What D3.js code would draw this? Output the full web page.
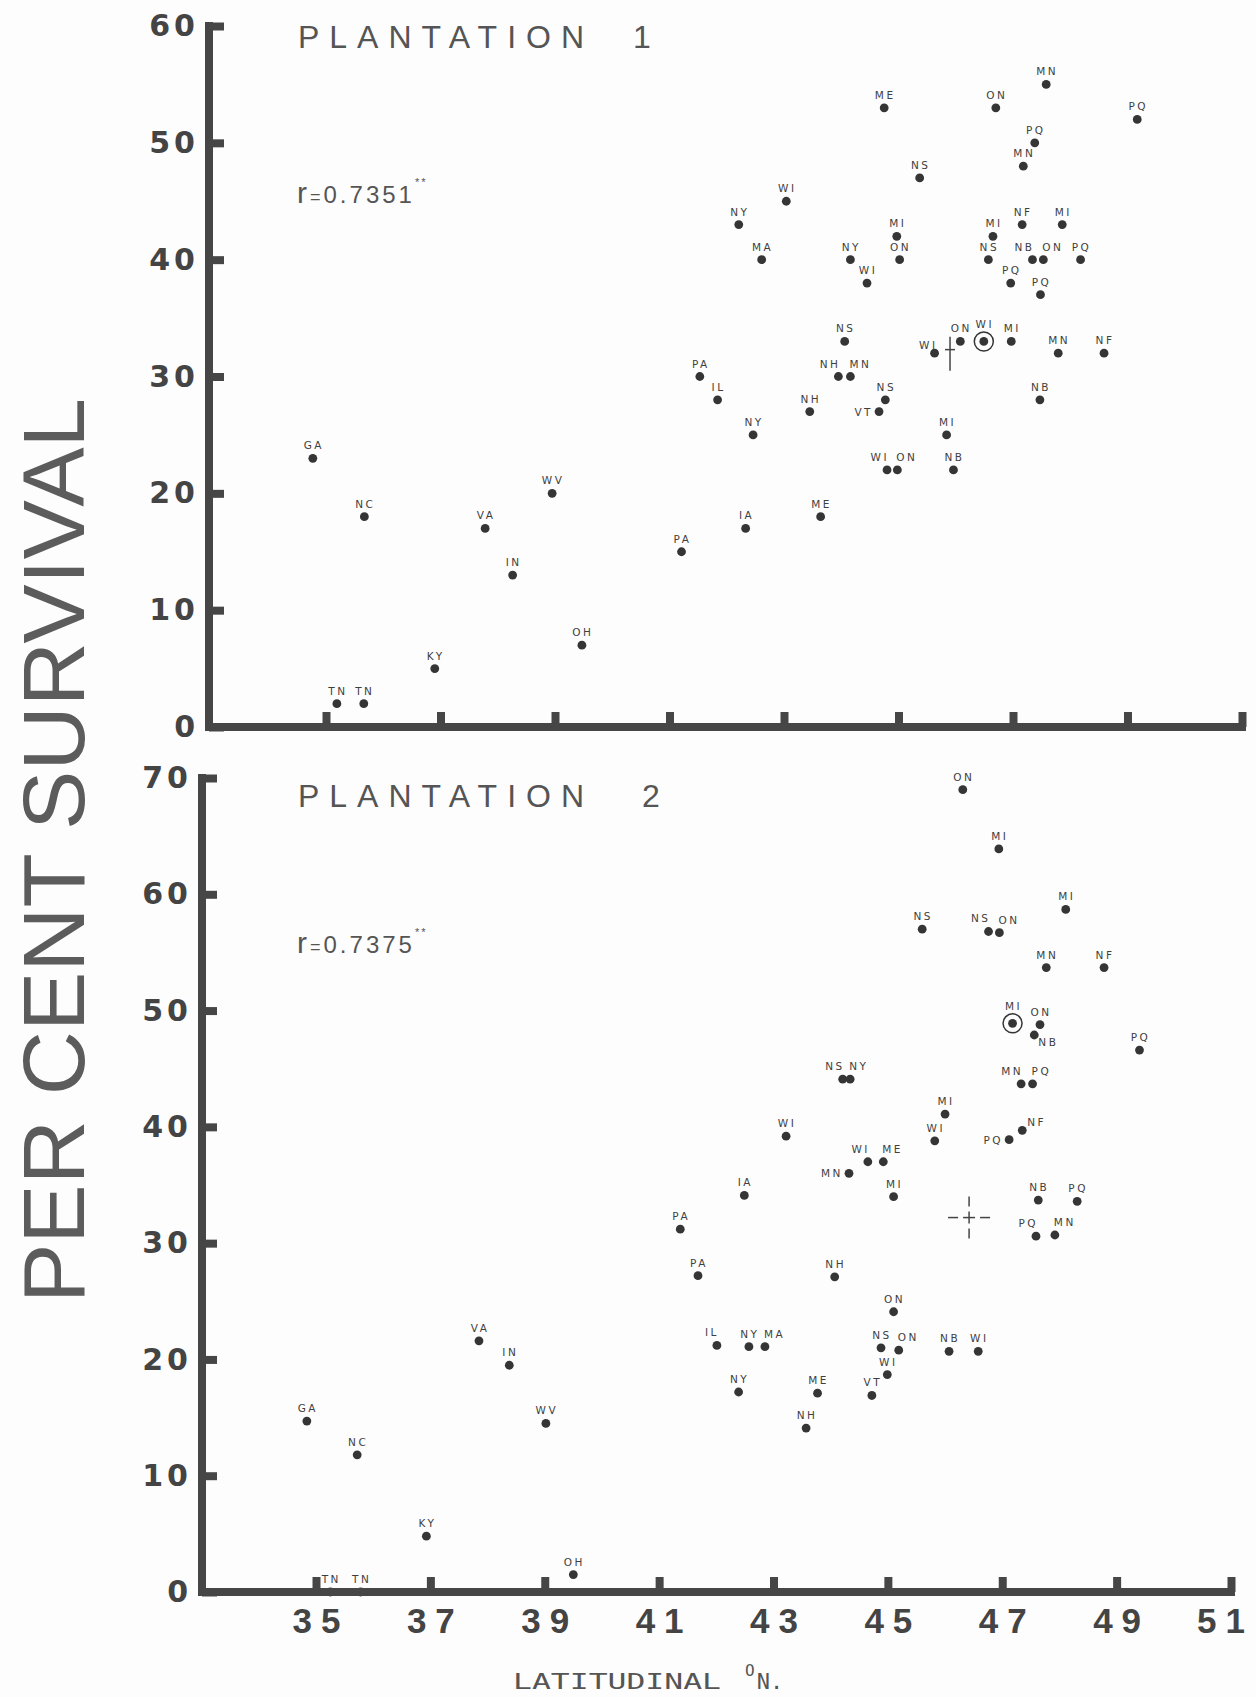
<!DOCTYPE html>
<html>
<head>
<meta charset="utf-8">
<script src="https://cdn.jsdelivr.net/npm/d3@7"></script>
<style>
  body { margin: 0; background: #fdfdfd; }
</style>
</head>
<body>
<div class="wrapper"></div>
<script>
// Plantation 1 : seed source latitude, per cent survival, state / province
var lat1 = [34.77, 35.67, 35.19, 35.66, 36.90, 37.78, 38.26, 38.95, 39.47, 41.21,
            41.53, 41.84, 42.33, 42.46, 43.64, 43.45, 43.95, 44.16, 44.66, 44.77,
            44.80, 44.98, 45.84, 45.96, 47.47, 44.06, 45.63, 46.08, 46.49, 46.97,
            47.79, 48.59, 42.61, 42.21, 43.04, 44.16, 44.45, 44.97, 45.02, 44.75,
            45.37, 46.70, 47.58, 49.17, 47.38, 47.18, 46.65, 47.16, 47.86, 46.57,
            47.34, 47.53, 48.18, 46.96, 47.48];
var surv1 = [23, 18, 2, 2, 5, 17, 13, 20, 7, 15,
             30, 28, 17, 25, 18, 27, 30, 30, 27, 28,
             22, 22, 25, 22, 28, 33, 32, 33, 33, 33,
             32, 32, 40, 43, 45, 40, 38, 42, 40, 53,
             47, 53, 55, 52, 50, 48, 42, 43, 43, 40,
             40, 40, 40, 38, 37];
var code1 = ["GA", "NC", "TN", "TN", "KY", "VA", "IN", "WV", "OH", "PA",
             "PA", "IL", "IA", "NY", "ME", "NH", "NH", "MN", "VT", "NS",
             "WI", "ON", "MI", "NB", "NB", "NS", "WI", "ON", "WI", "MI",
             "MN", "NF", "MA", "NY", "WI", "NY", "WI", "MI", "ON", "ME",
             "NS", "ON", "MN", "PQ", "PQ", "MN", "MI", "NF", "MI", "NS",
             "NB", "ON", "PQ", "PQ", "PQ"];
// where each little label sits round its dot
var place1 = ["a", "a", "a", "a", "a", "a", "a", "a", "a", "a",
              "a", "a", "a", "a", "a", "a", "al", "ar", "l", "a",
              "al", "ar", "a", "a", "a", "a", "ul", "a", "ac", "a",
              "a", "a", "a", "a", "a", "a", "a", "a", "a", "a",
              "a", "a", "a", "a", "a", "a", "a", "a", "a", "a",
              "al", "ar", "a", "a", "a"];
var circled1 = 28;
var mean1 = [45.9, 32.3];

// Plantation 2
var lat2 = [34.84, 35.72, 35.25, 35.78, 36.93, 37.85, 38.38, 39.02, 39.50, 41.37,
            41.68, 42.01, 42.57, 42.85, 42.39, 42.49, 43.22, 43.57, 43.77, 44.07,
            44.32, 44.21, 44.34, 44.65, 44.92, 45.10, 45.10, 44.88, 45.19, 44.99,
            44.72, 46.07, 46.58, 45.60, 46.00, 45.82, 46.31, 46.94, 46.76, 46.95,
            48.11, 47.77, 48.78, 47.18, 47.66, 47.56, 49.40, 47.33, 47.53, 47.12,
            47.35, 47.63, 48.31, 47.59, 47.92];
var surv2 = [14.7, 11.8, 0, 0, 4.8, 21.6, 19.5, 14.5, 1.5, 31.2,
             27.2, 21.2, 21.1, 21.1, 17.2, 34.1, 39.2, 14.1, 17.1, 27.1,
             36.0, 44.1, 44.1, 37.0, 37.0, 34.0, 24.1, 21.0, 20.8, 18.7,
             16.9, 20.7, 20.7, 57.0, 41.1, 38.8, 69.0, 63.9, 56.8, 56.7,
             58.7, 53.7, 53.7, 48.9, 48.8, 47.9, 46.6, 43.7, 43.7, 38.9,
             39.7, 33.7, 33.6, 30.6, 30.7];
var code2 = ["GA", "NC", "TN", "TN", "KY", "VA", "IN", "WV", "OH", "PA",
             "PA", "IL", "NY", "MA", "NY", "IA", "WI", "NH", "ME", "NH",
             "MN", "NS", "NY", "WI", "ME", "MI", "ON", "NS", "ON", "WI",
             "VT", "NB", "WI", "NS", "MI", "WI", "ON", "MI", "NS", "ON",
             "MI", "MN", "NF", "MI", "ON", "NB", "PQ", "MN", "PQ", "PQ",
             "NF", "NB", "PQ", "PQ", "MN"];
var place2 = ["a", "a", "a", "a", "a", "a", "a", "a", "a", "a",
              "a", "al", "a", "ar", "a", "a", "a", "a", "a", "a",
              "l", "al", "ar", "al", "ar", "a", "a", "a", "ar", "a",
              "a", "a", "a", "a", "a", "a", "a", "a", "al", "ar",
              "a", "a", "a", "ac", "a", "br", "a", "al", "ar", "l",
              "ur", "a", "a", "al", "ar"];
var circled2 = 43;
var mean2 = [46.42, 32.2];

var latTicks = [35, 37, 39, 41, 43, 45, 47, 49, 51];
var survTicks1 = [0, 10, 20, 30, 40, 50, 60];
var survTicks2 = [0, 10, 20, 30, 40, 50, 60, 70];

var ink = "#464646";
var W = 1256, H = 1697;

var svg = d3.select(".wrapper").append("svg")
    .attr("width", W)
    .attr("height", H)
    .style("background", "#fdfdfd");

function drawPanel(p) {
    var x = d3.scaleLinear().domain([35, 51]).range(p.xRange);
    var y = d3.scaleLinear().domain(p.yDomain).range(p.yRange);
    var g = svg.append("g");
    var y0 = y(0), yTop = y(p.yDomain[1]);

    // points
    var pts = g.append("g").selectAll("g")
        .data(p.lat.map(function(d, i) { return i; }))
        .enter().append("g")
        .attr("transform", function(i) {
            return "translate(" + x(p.lat[i]) + "," + y(p.surv[i]) + ")";
        });
    pts.append("circle")
        .attr("r", 4.4)
        .attr("fill", "#353535");

    pts.append("text")
        .text(function(i) { return p.code[i]; })
        .attr("font-family", "DejaVu Sans, sans-serif")
        .attr("font-size", 10.5)
        .attr("letter-spacing", 2.5)
        .attr("fill", "#3f3f3f")
        .each(function(i) {
            var t = d3.select(this), pl = p.place[i];
            if (pl == "al") t.attr("text-anchor", "end").attr("x", 2).attr("y", -9);
            else if (pl == "ar") t.attr("text-anchor", "start").attr("x", -1).attr("y", -9);
            else if (pl == "l") t.attr("text-anchor", "end").attr("x", -6).attr("y", 4);
            else if (pl == "ul") t.attr("text-anchor", "end").attr("x", 3).attr("y", -4);
            else if (pl == "ur") t.attr("text-anchor", "start").attr("x", 5).attr("y", -4);
            else if (pl == "br") t.attr("text-anchor", "start").attr("x", 4).attr("y", 11);
            else if (pl == "ac") t.attr("text-anchor", "middle").attr("x", 1).attr("y", -13);
            else t.attr("text-anchor", "middle").attr("x", 1).attr("y", -9);
        });

    // ring round the marked source
    g.append("circle")
        .attr("cx", x(p.lat[p.circled]))
        .attr("cy", y(p.surv[p.circled]))
        .attr("r", 9.5)
        .attr("fill", "none")
        .attr("stroke", "#353535")
        .attr("stroke-width", 1.5);

    // cross at the mean
    var cx = x(p.mean[0]), cy = y(p.mean[1]);
    var cross = g.append("g").attr("transform", "translate(" + cx + "," + cy + ")")
        .attr("stroke", "#444").attr("stroke-width", 1.5);
    p.crossSegs.forEach(function(s) {
        cross.append("line").attr("x1", s[0]).attr("y1", s[1]).attr("x2", s[2]).attr("y2", s[3]);
    });

    // x axis
    var xAxis = d3.axisBottom(x)
        .tickValues(latTicks)
        .tickSizeInner(-15)
        .tickSizeOuter(0)
        .tickPadding(16)
        .tickFormat(p.xLabels ? d3.format("d") : "");
    var gx = g.append("g")
        .attr("transform", "translate(0," + y0 + ")")
        .call(xAxis);
    gx.select(".domain").remove();
    gx.selectAll(".tick line")
        .attr("stroke", ink)
        .attr("stroke-width", 8);
    gx.selectAll(".tick text")
        .attr("fill", "#444")
        .attr("font-family", "Liberation Sans, Arial, sans-serif")
        .attr("font-weight", "bold")
        .attr("font-size", 35)
        .attr("letter-spacing", 9)
        .attr("dx", function(d) { return d == 51 ? -6 : 4.5; });
    g.append("line")
        .attr("x1", p.axisX - 4).attr("x2", x(51) + 4)
        .attr("y1", y0).attr("y2", y0)
        .attr("stroke", ink).attr("stroke-width", 8);

    // y axis
    var yAxis = d3.axisLeft(y)
        .tickValues(p.yTicks)
        .tickSizeInner(-15)
        .tickSizeOuter(0)
        .tickPadding(10)
        .tickFormat(d3.format("d"));
    var gy = g.append("g")
        .attr("transform", "translate(" + p.axisX + ",0)")
        .call(yAxis);
    gy.select(".domain").remove();
    gy.selectAll(".tick line")
        .attr("stroke", ink)
        .attr("stroke-width", 8);
    gy.selectAll(".tick text")
        .attr("fill", "#444")
        .attr("font-family", "DejaVu Sans, sans-serif")
        .attr("font-weight", "bold")
        .attr("font-size", 30)
        .attr("letter-spacing", 4);
    g.append("line")
        .attr("x1", p.axisX).attr("x2", p.axisX)
        .attr("y1", yTop - 4).attr("y2", y0 + 4)
        .attr("stroke", ink).attr("stroke-width", 8);

    // panel title and r
    g.append("text")
        .attr("x", 298).attr("y", p.titleY)
        .attr("font-family", "Liberation Sans, Arial, sans-serif")
        .attr("font-size", 32)
        .attr("fill", "#555")
        .attr("textLength", 286)
        .attr("lengthAdjust", "spacing")
        .text("PLANTATION");
    g.append("text")
        .attr("x", p.numX).attr("y", p.titleY)
        .attr("font-family", "Liberation Sans, Arial, sans-serif")
        .attr("font-size", 32)
        .attr("fill", "#555")
        .text(p.num);

    var r = g.append("text")
        .attr("x", 297).attr("y", p.rY)
        .attr("font-family", "Liberation Sans, Arial, sans-serif")
        .attr("fill", "#555");
    r.append("tspan").attr("font-size", 30).text("r");
    r.append("tspan").attr("font-size", 18).attr("dx", 3).text("=");
    r.append("tspan").attr("font-size", 24).attr("dx", 3).attr("letter-spacing", 3).text(p.r);
    r.append("tspan").attr("font-size", 11).attr("dy", -17).attr("dx", 0).attr("letter-spacing", 2).text("**");
}

drawPanel({
    lat: lat1, surv: surv1, code: code1, place: place1,
    circled: circled1, mean: mean1,
    xRange: [326, 1242], yDomain: [0, 60], yRange: [727, 26],
    yTicks: survTicks1, axisX: 209, xLabels: false,
    titleY: 48, num: "1", numX: 633, rY: 203, r: "0.7351",
    crossSegs: [[-5, 0, 5, 0], [0, -13, 0, 21]]
});

drawPanel({
    lat: lat2, surv: surv2, code: code2, place: place2,
    circled: circled2, mean: mean2,
    xRange: [316, 1231], yDomain: [0, 70], yRange: [1592, 778],
    yTicks: survTicks2, axisX: 202, xLabels: true,
    titleY: 807, num: "2", numX: 642, rY: 953, r: "0.7375",
    crossSegs: [[-6, 0, 6, 0], [0, -6, 0, 6], [-21, 0, -11, 0], [11, 0, 21, 0],
                [0, -21, 0, -11], [0, 11, 0, 21]]
});

// shared axis titles
svg.append("text")
    .attr("transform", "translate(84,1303) rotate(-90)")
    .attr("font-family", "Liberation Sans, Arial, sans-serif")
    .attr("font-size", 88)
    .attr("fill", "#5c5c5c")
    .attr("textLength", 905)
    .attr("lengthAdjust", "spacingAndGlyphs")
    .text("PER CENT SURVIVAL");

var xt = svg.append("text")
    .attr("x", 513).attr("y", 1689)
    .attr("font-family", "DejaVu Sans Mono, monospace")
    .attr("font-size", 22)
    .attr("fill", "#555");
xt.append("tspan").attr("textLength", 208).attr("lengthAdjust", "spacingAndGlyphs").text("LATITUDINAL");
xt.append("tspan").attr("dx", 24).attr("dy", -13).attr("font-size", 16).text("O");
xt.append("tspan").attr("dx", 2).attr("dy", 13).text("N.");
</script>
</body>
</html>
